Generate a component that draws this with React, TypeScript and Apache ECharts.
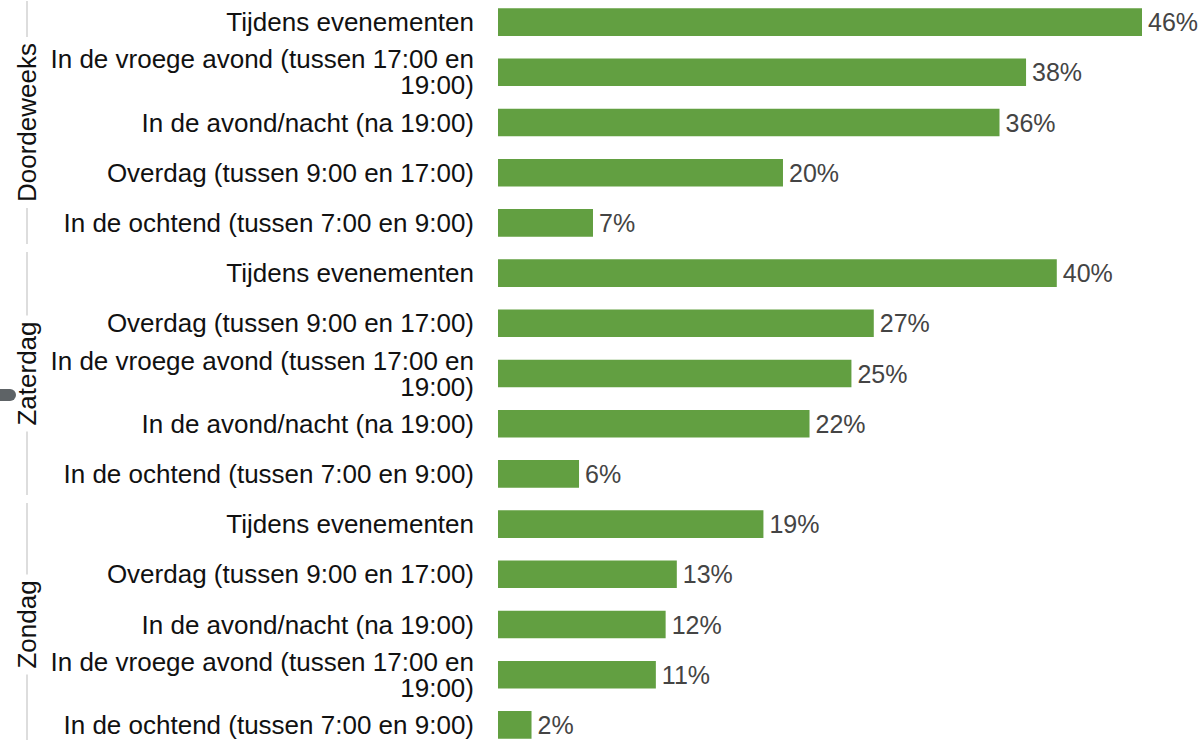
import React, { useEffect, useRef } from "react";
import * as echarts from "echarts";

const groups = ["Doordeweeks", "Zaterdag", "Zondag"];
const groupSizes = [5, 5, 5];
const categories = [
  "Tijdens evenementen",
  "In de vroege avond (tussen 17:00 en 19:00)",
  "In de avond/nacht (na 19:00)",
  "Overdag (tussen 9:00 en 17:00)",
  "In de ochtend (tussen 7:00 en 9:00)",
  "Tijdens evenementen",
  "Overdag (tussen 9:00 en 17:00)",
  "In de vroege avond (tussen 17:00 en 19:00)",
  "In de avond/nacht (na 19:00)",
  "In de ochtend (tussen 7:00 en 9:00)",
  "Tijdens evenementen",
  "Overdag (tussen 9:00 en 17:00)",
  "In de avond/nacht (na 19:00)",
  "In de vroege avond (tussen 17:00 en 19:00)",
  "In de ochtend (tussen 7:00 en 9:00)",
];
const values = [46.1, 37.8, 35.9, 20.4, 6.8, 40.0, 26.9, 25.3, 22.3, 5.8, 19.0, 12.8, 12.0, 11.3, 2.4];

const FONT = "'Liberation Sans', Arial, sans-serif";
const FS = 26;
const VFS = 25;

export default function App() {
  const ref = useRef<HTMLDivElement>(null);
  useEffect(() => {
    if (!ref.current) return;
    const chart = echarts.init(ref.current, undefined, { renderer: "svg" });
    const cats = categories.map((c, i) => `${i}|${c}`);
    chart.setOption({
      animation: false,
      textStyle: { fontFamily: FONT },
      grid: { left: 498, right: 58, top: 0, bottom: 0, containLabel: false },
      xAxis: {
        type: "value",
        min: 0,
        max: "dataMax",
        show: false,
      },
      yAxis: {
        type: "category",
        inverse: true,
        data: cats,
        axisLine: { show: false },
        axisTick: { show: false },
        axisLabel: {
          margin: 24,
          fontSize: FS,
          lineHeight: 26,
          color: "#111111",
          fontFamily: FONT,
          formatter: (v: string) => v.split("|")[1].replace(" en 19:00)", " en\n19:00)"),
        },
      },
      series: [
        {
          type: "bar",
          data: values,
          barCategoryGap: "45%",
          itemStyle: { color: "#629f41" },
          label: {
            show: true,
            position: "right",
            distance: 6,
            fontSize: VFS,
            color: "#444444",
            fontFamily: FONT,
            formatter: (p: any) => `${Math.round(p.value)}%`,
          },
        },
      ],
    });

    // group separators & labels
    const graphics: any[] = [];
    let start = 0;
    const lineX = 27;
    groups.forEach((g, gi) => {
      const n = groupSizes[gi];
      const c0 = chart.convertToPixel({ yAxisIndex: 0 }, cats[start]) as number;
      const c1 = chart.convertToPixel({ yAxisIndex: 0 }, cats[start + n - 1]) as number;
      const half = n > 1 ? (c1 - c0) / (n - 1) / 2 : 25;
      const top = c0 - half + 4;
      const bottom = c1 + half - 4;
      graphics.push({
        type: "line",
        shape: { x1: lineX, y1: top, x2: lineX, y2: bottom },
        style: { stroke: "#dddddd", lineWidth: 2 },
        silent: true,
      });
      graphics.push({
        type: "text",
        x: lineX,
        y: (c0 + c1) / 2,
        rotation: Math.PI / 2,
        style: {
          text: g,
          fontSize: FS,
          fontFamily: FONT,
          fill: "#111111",
          align: "center",
          verticalAlign: "middle",
          backgroundColor: "#ffffff",
          padding: [0, 6],
        },
        silent: true,
      });
      start += n;
    });
    graphics.push({
      type: "rect",
      shape: { x: -8, y: 392, width: 24, height: 12, r: 6 },
      style: { fill: "#5e6366" },
      silent: true,
    });
    chart.setOption({ graphic: graphics });
    return () => chart.dispose();
  }, []);
  return (
    <div
      ref={ref}
      style={{ position: "fixed", left: 0, top: -3, width: 1200, height: 753, background: "#fff" }}
    />
  );
}
